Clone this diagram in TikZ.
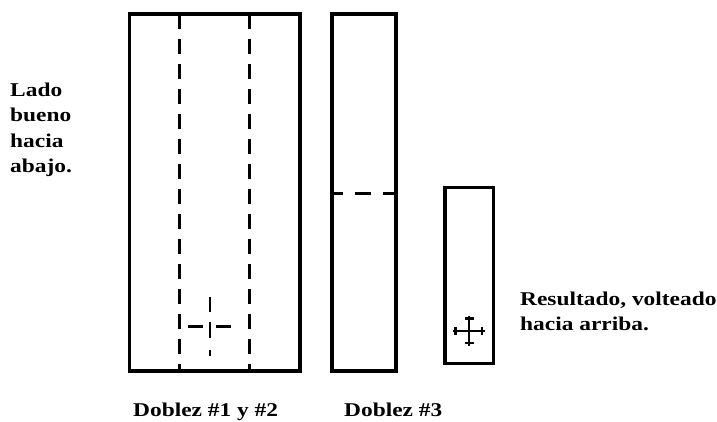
\documentclass[tikz,border=0pt]{standalone}
\usepackage{fontspec}
\setmainfont{Liberation Serif}[FakeStretch=1.2]
\begin{document}
\begin{tikzpicture}[x=1pt,y=-1pt,
  frame/.style={line width=3.2pt},
  fold/.style={line width=2.8pt,dash pattern=on 15pt off 10pt},
  crossline/.style={line width=2.8pt},
  smallcross/.style={line width=2.1pt},
  lbl/.style={inner sep=0pt,anchor=base west,font=\fontsize{19.5}{25}\selectfont\bfseries}]
\useasboundingbox (0,0) rectangle (717,421);
% big rectangle
\coordinate (a1) at (129.5,14);
\coordinate (a2) at (300,371);
\draw[frame] (a1) rectangle (a2);
\coordinate (d1t) at (179.3,14);
\coordinate (d1b) at (179.3,371);
\coordinate (d2t) at (249.3,14);
\coordinate (d2b) at (249.3,371);
\draw[fold] (d1t) -- (d1b);
\draw[fold] (d2t) -- (d2b);
% cross in big rectangle
\coordinate (c1) at (210,297); \coordinate (c2) at (210,312);
\coordinate (c3) at (210,322); \coordinate (c4) at (210,338);
\coordinate (c5) at (210,350); \coordinate (c6) at (210,356);
\coordinate (h1) at (188,326.7); \coordinate (h2) at (203,326.7);
\coordinate (h3) at (216,326.7); \coordinate (h4) at (231,326.7);
\draw[crossline] (c1) -- (c2);
\draw[crossline] (c3) -- (c4);
\draw[crossline] (c5) -- (c6);
\draw[crossline] (h1) -- (h2);
\draw[crossline] (h3) -- (h4);
% second rectangle
\coordinate (b1) at (332,14);
\coordinate (b2) at (396,371);
\draw[frame] (b1) rectangle (b2);
\coordinate (f1) at (332,193.3);
\coordinate (f2) at (396,193.3);
\draw[line width=2.8pt,dash pattern=on 16.5pt off 12pt,dash phase=6pt] (f1) -- (f2);
% third rectangle
\coordinate (r1) at (445,187.5);
\coordinate (r2) at (493.3,363.5);
\draw[frame] (r1) rectangle (r2);
% small cross
\coordinate (sl) at (453,330.7); \coordinate (sr) at (484.5,330.7);
\coordinate (st) at (469.3,316); \coordinate (sb) at (469.3,345.7);
\draw[smallcross] (sl) -- (sr);
\draw[smallcross] (st) -- (sb);
\coordinate (tl1) at (455.5,326.5); \coordinate (tl2) at (455.5,335);
\coordinate (tr1) at (482,326.5); \coordinate (tr2) at (482,335);
\coordinate (tt1) at (465,318.5); \coordinate (tt2) at (473.7,318.5);
\coordinate (tb1) at (465,343); \coordinate (tb2) at (473.7,343);
\draw[smallcross] (tl1) -- (tl2);
\draw[smallcross] (tr1) -- (tr2);
\draw[smallcross] (tt1) -- (tt2);
\draw[smallcross] (tb1) -- (tb2);
% texts
\node[lbl] (t1) at (10,96) {Lado};
\node[lbl] (t2) at (10,121.5) {bueno};
\node[lbl] (t3) at (10,147) {hacia};
\node[lbl] (t4) at (10,172.5) {abajo.};
\node[lbl] (t5) at (520,305.7) {Resultado, volteado};
\node[lbl] (t6) at (520,330.7) {hacia arriba.};
\node[lbl] (t7) at (133,416) {Doblez \#1 y \#2};
\node[lbl] (t8) at (344,416) {Doblez \#3};
\end{tikzpicture}
\end{document}
